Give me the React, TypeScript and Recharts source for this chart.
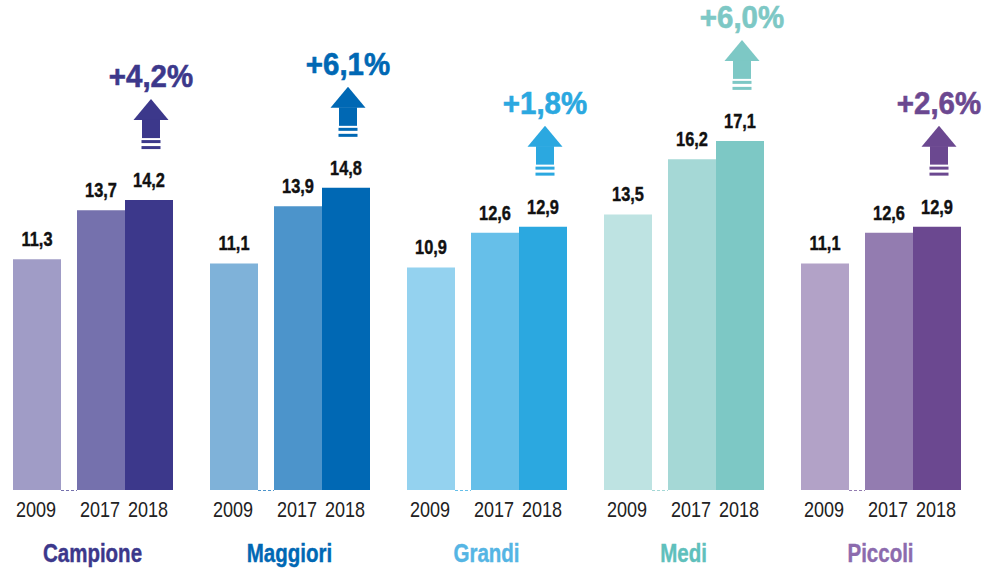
import { Bar, BarChart, Cell, LabelList, XAxis, YAxis } from "recharts"

const categories = ["Campione", "Maggiori", "Grandi", "Medi", "Piccoli"]
const years = ["2009", "2017", "2018"]
const values2009 = [11.3, 11.1, 10.9, 13.5, 11.1]
const values2017 = [13.7, 13.9, 12.6, 16.2, 12.6]
const values2018 = [14.2, 14.8, 12.9, 17.1, 12.9]
const growth = ["+4,2%", "+6,1%", "+1,8%", "+6,0%", "+2,6%"]

// colours per group: 2009, 2017, 2018, category name
const palette = [
  ["#a09cc6", "#7571ad", "#3c388b", "#3c388b"],
  ["#7fb2d9", "#4c94cb", "#0068b4", "#0068b4"],
  ["#94d2ef", "#66bfe9", "#2ba8e0", "#55b5e4"],
  ["#bee3e2", "#a5d8d6", "#7dc8c5", "#5fc0bc"],
  ["#b2a2c7", "#937cb0", "#6b4890", "#8c6bae"],
]

const data = categories.map((name, i) => ({
  name,
  y2009: values2009[i],
  gap: 0,
  y2017: values2017[i],
  y2018: values2018[i],
  growth: growth[i],
}))

const sans = "'Liberation Sans', Arial, sans-serif"
const fmt = (v: number) => v.toFixed(1).replace(".", ",")

// no condensed font installed, so squeeze Liberation Sans horizontally
const NarrowText = ({ x, y, size, bold, fill, children }: any) => (
  <text
    transform={`translate(${x},${y}) scale(0.82,1)`}
    textAnchor="middle"
    fontFamily={sans}
    fontWeight={bold ? "bold" : "normal"}
    fontSize={size}
    fill={fill}
    stroke={bold ? fill : "none"}
    strokeWidth={bold ? 0.4 : 0}
  >
    {children}
  </text>
)

function barLabel(year: string, withArrow: boolean) {
  return (props: any) => {
    const { x, y, width, height, value, index } = props
    const cx = x + width / 2
    const base = y + height
    const out = [
      <NarrowText key="v" x={cx} y={y - 13} size={20} bold fill="#111">
        {fmt(value)}
      </NarrowText>,
      <NarrowText key="y" x={cx - 1} y={base + 27} size={22} fill="#222">
        {year}
      </NarrowText>,
    ]
    if (withArrow) {
      const col = palette[index][2]
      const ax = cx + 2
      const yb = y - 51
      out.push(
        <g key="a" fill={col}>
          <polygon points={`${ax - 17.5},${yb - 29} ${ax},${yb - 50} ${ax + 17.5},${yb - 29}`} />
          <rect x={ax - 9} y={yb - 29.5} width={18} height={18.5} />
          <rect x={ax - 9.5} y={yb - 9} width={19} height={3} />
          <rect x={ax - 9.5} y={yb - 3} width={19} height={3} />
          <text
            transform={`translate(${ax},${yb - 62}) scale(0.95,1)`}
            textAnchor="middle"
            fontFamily={sans}
            fontWeight="bold"
            fontSize={31}
            stroke={col}
            strokeWidth={0.6}
          >
            {growth[index]}
          </text>
        </g>
      )
    }
    return <g>{out}</g>
  }
}

const GapShape = (props: any) => {
  const { x, y, width, index } = props
  return (
    <line x1={x} x2={x + width} y1={y + 0.5} y2={y + 0.5} stroke={palette[index][1]} strokeWidth={1} strokeDasharray="3 2" />
  )
}

const CategoryTick = (props: any) => {
  const { x, y, payload } = props
  return (
    <NarrowText x={x} y={y + 72} size={25} bold fill={palette[payload.index][3]}>
      {payload.value}
    </NarrowText>
  )
}

export default function App() {
  return (
    <div style={{ position: "absolute", left: -6, top: 0 }}>
      <BarChart width={995} height={568} data={data} margin={{ top: 0, right: 10, left: 0, bottom: 0 }} barGap={0}>
        <XAxis dataKey="name" height={78} tickLine={false} axisLine={false} tickSize={0} tickMargin={0} tick={<CategoryTick />} interval={0} />
        <YAxis hide domain={[0, 24]} />
        <Bar dataKey="y2009" barSize={48} isAnimationActive={false}>
          {data.map((_, i) => (
            <Cell key={i} fill={palette[i][0]} />
          ))}
          <LabelList dataKey="y2009" content={barLabel(years[0], false)} />
        </Bar>
        <Bar dataKey="gap" barSize={16} isAnimationActive={false} shape={<GapShape />} />
        <Bar dataKey="y2017" barSize={48} isAnimationActive={false}>
          {data.map((_, i) => (
            <Cell key={i} fill={palette[i][1]} />
          ))}
          <LabelList dataKey="y2017" content={barLabel(years[1], false)} />
        </Bar>
        <Bar dataKey="y2018" barSize={48} isAnimationActive={false}>
          {data.map((_, i) => (
            <Cell key={i} fill={palette[i][2]} />
          ))}
          <LabelList dataKey="y2018" content={barLabel(years[2], true)} />
        </Bar>
      </BarChart>
    </div>
  )
}
